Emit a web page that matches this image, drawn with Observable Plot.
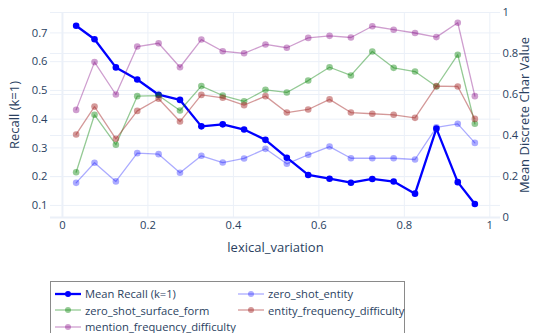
<!DOCTYPE html>
<html>
<head>
<meta charset="utf-8">
<script src="https://cdn.jsdelivr.net/npm/d3@7"></script>
<script src="https://cdn.jsdelivr.net/npm/@observablehq/plot@0.6"></script>
<style>
  html, body { margin: 0; padding: 0; background: #fff; }
  #wrap { position: relative; width: 538px; height: 333px; overflow: hidden; font-family: "Open Sans", sans-serif; }
  #legend { position: absolute; left: 50px; top: 281px; width: 355px; height: 60px; border: 1px solid #8a8a8a; box-sizing: border-box; background: #fff; font-size: 11.2px; color: #2a3f5f; }
  .item { position: absolute; display: flex; align-items: center; white-space: nowrap; }
  .item svg { margin-right: 4px; }
</style>
</head>
<body>
<div id="wrap"><div id="chart"></div><div id="legend"></div></div>
<script>
// ---- data ----
const lexicalVariation = [0.032, 0.075, 0.125, 0.175, 0.225, 0.275, 0.325, 0.375, 0.425, 0.475, 0.525, 0.575, 0.625, 0.675, 0.725, 0.775, 0.825, 0.875, 0.925, 0.965];
const meanRecall = [0.725, 0.678, 0.58, 0.538, 0.485, 0.467, 0.375, 0.382, 0.364, 0.328, 0.266, 0.206, 0.193, 0.179, 0.192, 0.183, 0.141, 0.367, 0.181, 0.105];
const zeroShotEntity = [0.169, 0.267, 0.176, 0.314, 0.309, 0.218, 0.301, 0.268, 0.288, 0.335, 0.262, 0.306, 0.346, 0.289, 0.289, 0.289, 0.283, 0.44, 0.457, 0.364];
const zeroShotSurfaceForm = [0.221, 0.501, 0.355, 0.592, 0.595, 0.522, 0.641, 0.595, 0.567, 0.623, 0.61, 0.668, 0.733, 0.693, 0.81, 0.73, 0.712, 0.639, 0.794, 0.457];
const entityFrequencyDifficulty = [0.405, 0.541, 0.384, 0.52, 0.579, 0.468, 0.598, 0.584, 0.548, 0.592, 0.512, 0.527, 0.576, 0.512, 0.506, 0.501, 0.486, 0.641, 0.639, 0.481];
const mentionFrequencyDifficulty = [0.525, 0.758, 0.6, 0.834, 0.85, 0.733, 0.868, 0.811, 0.801, 0.844, 0.828, 0.876, 0.886, 0.878, 0.933, 0.916, 0.9, 0.88, 0.95, 0.592];

const xTicks = [0, 0.2, 0.4, 0.6, 0.8, 1];
const xTickLabels = ["0", "0.2", "0.4", "0.6", "0.8", "1"];
const leftTicks = [0.1, 0.2, 0.3, 0.4, 0.5, 0.6, 0.7];
const leftTickLabels = ["0.1", "0.2", "0.3", "0.4", "0.5", "0.6", "0.7"];
const rightTicks = [0, 0.2, 0.4, 0.6, 0.8, 1];
const rightTickLabels = ["0", "0.2", "0.4", "0.6", "0.8", "1"];

const seriesNames = ["Mean Recall (k=1)", "zero_shot_entity", "zero_shot_surface_form", "entity_frequency_difficulty", "mention_frequency_difficulty"];
const seriesColors = ["#0000ff", "#0000ff", "#008000", "#a52a2a", "#800080"];
const seriesOpacity = [1, 0.33, 0.42, 0.48, 0.38];

// ---- scales ----
const leftDomain = [0.058, 0.771];
const rightDomain = [0, 1];
const toLeft = v => leftDomain[0] + (v - rightDomain[0]) / (rightDomain[1] - rightDomain[0]) * (leftDomain[1] - leftDomain[0]);

const rightSeries = [zeroShotEntity, zeroShotSurfaceForm, entityFrequencyDifficulty, mentionFrequencyDifficulty];
const rows = [];
lexicalVariation.forEach((x, i) => rows.push({s: 0, x, y: meanRecall[i]}));
rightSeries.forEach((arr, k) => arr.forEach((v, i) => rows.push({s: k + 1, x: lexicalVariation[i], y: toLeft(v)})));

const grid = "#EBF0F8";
const ink = "#2a3f5f";

const marks = [
  Plot.ruleX(xTicks, {stroke: grid, strokeWidth: d => d === 0 ? 2 : 1}),
  Plot.ruleY(leftTicks, {stroke: grid}),
  Plot.ruleY(rightTicks.map(toLeft), {stroke: grid, strokeWidth: (d, i) => i === 0 ? 2 : 1}),
  Plot.axisX({ticks: xTicks, tickSize: 0, tickPadding: 4, tickFormat: (d, i) => xTickLabels[i], label: null}),
  Plot.axisY({anchor: "left", ticks: leftTicks, tickSize: 0, tickPadding: 3, tickFormat: (d, i) => leftTickLabels[i], label: null}),
  Plot.axisY({anchor: "right", ticks: rightTicks.map(toLeft), tickSize: 0, tickPadding: 2, tickFormat: (d, i) => rightTickLabels[i], label: null}),
  Plot.text(["lexical_variation"], {frameAnchor: "bottom", dy: 30, text: d => d, fontSize: 13, fill: ink, textAnchor: "middle", lineAnchor: "middle"}),
  Plot.text(["Recall (k=1)"], {frameAnchor: "left", dx: -36, rotate: -90, text: d => d, fontSize: 13, fill: ink, textAnchor: "middle", lineAnchor: "middle"}),
  Plot.text(["Mean Discrete Char Value"], {frameAnchor: "right", dx: 24, rotate: -90, text: d => d, fontSize: 13, fill: ink, textAnchor: "middle", lineAnchor: "middle"})
];
for (let s = 0; s < seriesNames.length; s++) {
  const data = rows.filter(d => d.s === s);
  marks.push(Plot.line(data, {x: "x", y: "y", stroke: seriesColors[s], strokeOpacity: seriesOpacity[s], strokeWidth: s === 0 ? 2.3 : 1.3}));
  marks.push(Plot.dot(data, {x: "x", y: "y", r: 3.3, fill: seriesColors[s], fillOpacity: seriesOpacity[s], stroke: "none"}));
}

const chart = Plot.plot({
  width: 538,
  height: 265,
  marginLeft: 50,
  marginRight: 38,
  marginTop: 12,
  marginBottom: 48,
  style: {fontFamily: "Open Sans, sans-serif", fontSize: "11.2px", color: ink, background: "#fff"},
  x: {domain: [-0.028, 1.025]},
  y: {domain: leftDomain},
  marks
});
document.getElementById("chart").appendChild(chart);

// ---- legend ----
const legend = document.getElementById("legend");
const positions = [[4, 4], [187, 4], [4, 20.5], [187, 20.5], [4, 37]];
seriesNames.forEach((name, i) => {
  const el = document.createElement("div");
  el.className = "item";
  el.style.left = positions[i][0] + "px";
  el.style.top = positions[i][1] + "px";
  const op = seriesOpacity[i];
  el.innerHTML = `<svg width="26" height="12"><line x1="0" x2="26" y1="6" y2="6" stroke="${seriesColors[i]}" stroke-opacity="${op}" stroke-width="${i === 0 ? 2.3 : 1.3}"/><circle cx="13" cy="6" r="3" fill="${seriesColors[i]}" fill-opacity="${op}"/></svg><span>${name}</span>`;
  legend.appendChild(el);
});
</script>
</body>
</html>
